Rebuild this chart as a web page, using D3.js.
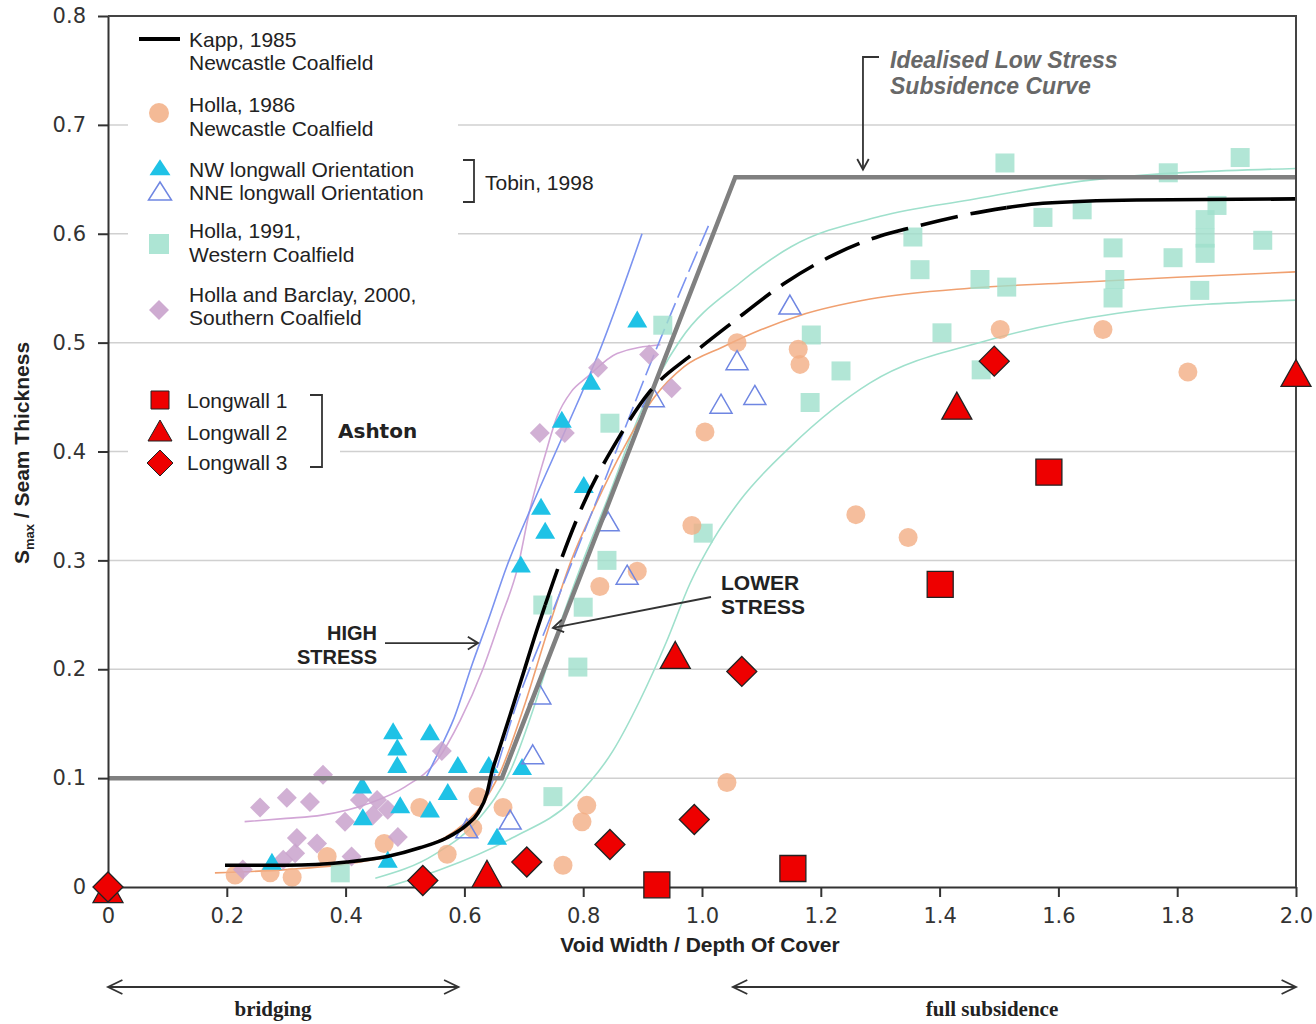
<!DOCTYPE html>
<html lang="en">
<head>
<meta charset="UTF-8">
<style>
    body { margin: 0; background: #fff; }
    svg text { font-family: "Liberation Sans", Arial, sans-serif; fill: #222; }
    .axis .tick text { font-family: "DejaVu Sans", sans-serif; font-size: 21px; fill: #333; }
    .axis path, .axis line { stroke: #333; stroke-width: 2; }
    .grid line { stroke: #d0d0d0; stroke-width: 1.5; }
    .fit { fill: none; stroke-width: 1.6; }
    .arrow { fill: none; stroke: #333; stroke-width: 1.8; }
</style>
</head>
<body>
<svg id="chart" width="1316" height="1024"></svg>
<script src="https://cdn.jsdelivr.net/npm/d3@7/dist/d3.min.js"></script>
<script>

// tick values
var xTicks = [0, 0.2, 0.4, 0.6, 0.8, 1.0, 1.2, 1.4, 1.6, 1.8, 2.0];
var yTicks = [0, 0.1, 0.2, 0.3, 0.4, 0.5, 0.6, 0.7, 0.8];

// Holla 1986, Newcastle Coalfield
var hollaNewcastle = [[1.059, 0.500], [1.162, 0.494], [1.165, 0.480], [1.005, 0.418], [0.983, 0.332],
    [0.891, 0.290], [0.828, 0.276], [1.259, 0.342], [1.347, 0.321], [1.502, 0.512], [1.675, 0.512],
    [1.818, 0.473], [1.042, 0.096], [0.806, 0.075], [0.798, 0.060], [0.766, 0.020], [0.665, 0.073],
    [0.623, 0.083], [0.614, 0.054], [0.571, 0.030], [0.525, 0.073], [0.465, 0.040], [0.369, 0.028],
    [0.310, 0.009], [0.214, 0.011], [0.273, 0.013]];

// Tobin 1998
var tobinNW = [[0.891, 0.519], [0.813, 0.462], [0.764, 0.427], [0.801, 0.367], [0.729, 0.347],
    [0.736, 0.325], [0.695, 0.294], [0.480, 0.141], [0.487, 0.126], [0.487, 0.110], [0.542, 0.140],
    [0.589, 0.110], [0.641, 0.110], [0.697, 0.108], [0.572, 0.085], [0.542, 0.069], [0.492, 0.073],
    [0.428, 0.091], [0.429, 0.062], [0.471, 0.023], [0.655, 0.044], [0.276, 0.021]];
var tobinNNE = [[1.148, 0.532], [1.059, 0.481], [1.089, 0.449], [1.032, 0.441], [0.918, 0.447],
    [0.842, 0.333], [0.874, 0.284], [0.727, 0.174], [0.715, 0.119], [0.677, 0.059], [0.604, 0.051]];

// Holla 1991, Western Coalfield
var hollaWestern = [[1.510, 0.665], [1.906, 0.670], [1.785, 0.656], [1.355, 0.597], [1.367, 0.567],
    [1.574, 0.615], [1.640, 0.622], [1.692, 0.587], [1.695, 0.558], [1.692, 0.541], [1.793, 0.578],
    [1.847, 0.613], [1.867, 0.626], [1.847, 0.596], [1.847, 0.582], [1.838, 0.548], [1.944, 0.594],
    [1.468, 0.558], [1.513, 0.551], [1.404, 0.509], [1.470, 0.475], [1.234, 0.474], [1.182, 0.445],
    [1.184, 0.507], [0.934, 0.516], [0.845, 0.426], [0.840, 0.300], [0.800, 0.257], [0.791, 0.202],
    [0.749, 0.083], [1.002, 0.325], [0.732, 0.259], [0.391, 0.013]];

// Holla and Barclay 2000, Southern Coalfield
var hollaSouthern = [[0.911, 0.489], [0.949, 0.458], [0.825, 0.477], [0.727, 0.417], [0.769, 0.417],
    [0.562, 0.125], [0.362, 0.103], [0.256, 0.073], [0.301, 0.082], [0.340, 0.078], [0.424, 0.080],
    [0.453, 0.080], [0.446, 0.066], [0.471, 0.071], [0.399, 0.060], [0.488, 0.046], [0.318, 0.045],
    [0.352, 0.040], [0.315, 0.031], [0.227, 0.016], [0.295, 0.025], [0.410, 0.028]];

// Ashton
var longwall1 = [[0.924, 0.002], [1.153, 0.017], [1.401, 0.278], [1.584, 0.381]];
var longwall2 = [[0.0, -0.006], [0.638, 0.008], [0.955, 0.209], [1.429, 0.438], [2.0, 0.468]];
var longwall3 = [[0.0, 0.0], [0.530, 0.006], [0.705, 0.023], [0.845, 0.039], [0.987, 0.062],
    [1.067, 0.198], [1.492, 0.483]];

// curves
var kapp = [[0.197, 0.020], [0.301, 0.020], [0.402, 0.023], [0.470, 0.028], [0.525, 0.036],
    [0.570, 0.045], [0.604, 0.057], [0.623, 0.068], [0.638, 0.086], [0.646, 0.105], [0.657, 0.124],
    [0.677, 0.158], [0.699, 0.196], [0.722, 0.236], [0.736, 0.259], [0.761, 0.298], [0.798, 0.349],
    [0.857, 0.410], [0.912, 0.455], [0.985, 0.490], [1.050, 0.518], [1.143, 0.556], [1.227, 0.582],
    [1.300, 0.598], [1.355, 0.606], [1.440, 0.617], [1.513, 0.624], [1.574, 0.628], [1.732, 0.631],
    [2.0, 0.632]];
var kappDashFrom = 0.736, kappDashTo = 1.513;
var idealised = [[0, 0.1], [0.663, 0.1], [1.056, 0.652], [2.0, 0.652]];
var nwFit = [[0.535, 0.100], [0.560, 0.128], [0.581, 0.153], [0.614, 0.206], [0.640, 0.245],
    [0.671, 0.294], [0.716, 0.353], [0.772, 0.422], [0.828, 0.493], [0.899, 0.600]];
var nneFit = [[0.640, 0.085], [0.655, 0.110], [0.680, 0.155], [0.750, 0.255], [0.830, 0.365],
    [0.920, 0.490], [1.013, 0.610]];
var southernFit = [[0.23, 0.060], [0.30, 0.063], [0.36, 0.066], [0.44, 0.077], [0.50, 0.092],
    [0.555, 0.117], [0.593, 0.153], [0.631, 0.200], [0.660, 0.245], [0.690, 0.294], [0.710, 0.346],
    [0.735, 0.395], [0.756, 0.432], [0.780, 0.455], [0.806, 0.468], [0.857, 0.490], [0.930, 0.498]];
var newcastleFit = [[0.18, 0.013], [0.30, 0.016], [0.40, 0.021], [0.50, 0.032], [0.58, 0.050],
    [0.626, 0.073], [0.66, 0.105], [0.70, 0.165], [0.74, 0.235], [0.78, 0.300], [0.82, 0.350],
    [0.87, 0.405], [0.92, 0.450], [0.97, 0.478], [1.035, 0.496], [1.10, 0.512], [1.165, 0.525],
    [1.283, 0.540], [1.45, 0.550], [1.62, 0.555], [1.80, 0.560], [2.0, 0.565]];
var westernFitUpper = [[0.45, 0.008], [0.55, 0.030], [0.62, 0.060], [0.68, 0.110], [0.72, 0.170],
    [0.756, 0.233], [0.80, 0.300], [0.84, 0.355], [0.90, 0.440], [0.963, 0.502], [1.064, 0.555],
    [1.15, 0.588], [1.30, 0.616], [1.45, 0.631], [1.65, 0.649], [2.0, 0.660]];
var westernFitLower = [[0.47, 0.0], [0.56, 0.016], [0.68, 0.045], [0.783, 0.080], [0.85, 0.125],
    [0.896, 0.172], [0.94, 0.225], [0.98, 0.279], [1.02, 0.320], [1.064, 0.355], [1.15, 0.405],
    [1.283, 0.463], [1.48, 0.502], [1.70, 0.527], [2.0, 0.539]];

var svg = d3.select("#chart");

var x = d3.scaleLinear().domain([0, 2]).range([108, 1296]);
var y = d3.scaleLinear().domain([0, 0.8]).range([887, 16]);

var colors = {
    orange: "#f2ae84", teal: "#9fe0cc", cyan: "#1fc2e6", nne: "#6f86e2",
    pink: "#c9a2cc", red: "#ee0000", grey: "#808080"
};

function tri(w, h) { return "M0," + (-2 * h / 3) + "L" + (w / 2) + "," + (h / 3) + "L" + (-w / 2) + "," + (h / 3) + "Z"; }
function diamond(r) { return "M0," + (-r) + "L" + r + ",0L0," + r + "L" + (-r) + ",0Z"; }
function square(s) { var h = s / 2; return "M" + (-h) + "," + (-h) + "H" + h + "V" + h + "H" + (-h) + "Z"; }
function circle(r) { return "M" + (-r) + ",0a" + r + "," + r + " 0 1,0 " + (2 * r) + ",0a" + r + "," + r + " 0 1,0 " + (-2 * r) + ",0Z"; }

// grid
svg.append("g").attr("class", "grid")
    .selectAll("line").data(yTicks.filter(function (d) { return d > 0 && d < 0.8; }))
    .enter().append("line")
    .attr("x1", x(0)).attr("x2", x(2))
    .attr("y1", function (d) { return y(d); }).attr("y2", function (d) { return y(d); });

// legend backgrounds
svg.append("rect").attr("x", 128).attr("y", 20).attr("width", 330).attr("height", 318).attr("fill", "#fff");
svg.append("rect").attr("x", 128).attr("y", 382).attr("width", 212).attr("height", 96).attr("fill", "#fff");

svg.append("clipPath").attr("id", "plotclip").append("rect")
    .attr("x", x(0)).attr("y", y(0.8)).attr("width", x(2) - x(0)).attr("height", y(0) - y(0.8) + 20);

var line = d3.line()
    .x(function (d) { return x(d[0]); })
    .y(function (d) { return y(d[1]); })
    .curve(d3.curveMonotoneX);

var plot = svg.append("g").attr("clip-path", "url(#plotclip)");

// fitted thin curves
plot.append("path").attr("class", "fit").attr("d", line(westernFitLower)).attr("stroke", colors.teal);
plot.append("path").attr("class", "fit").attr("d", line(westernFitUpper)).attr("stroke", colors.teal);
plot.append("path").attr("class", "fit").attr("d", line(newcastleFit)).attr("stroke", "#f0a070");
plot.append("path").attr("class", "fit").attr("d", line(southernFit)).attr("stroke", "#d2a6d6");
plot.append("path").attr("class", "fit").attr("d", line(nwFit)).attr("stroke", "#7b93f0");
plot.append("path").attr("class", "fit").attr("d", line(nneFit)).attr("stroke", "#7b93f0")
    .attr("stroke-dasharray", "22,6");

// pastel data points
function points(data, shape, attrs) {
    var sel = plot.append("g").selectAll("path").data(data).enter().append("path")
        .attr("d", shape)
        .attr("transform", function (d) { return "translate(" + x(d[0]) + "," + y(d[1]) + ")"; });
    Object.keys(attrs).forEach(function (k) { sel.attr(k, attrs[k]); });
    return sel;
}

points(hollaWestern, square(19), { fill: colors.teal, "fill-opacity": 0.8 });
points(hollaNewcastle, circle(9.5), { fill: colors.orange, "fill-opacity": 0.8 });
points(hollaSouthern, diamond(10), { fill: colors.pink, "fill-opacity": 0.85 });
points(tobinNW, tri(20, 17), { fill: colors.cyan });
points(tobinNNE, tri(22, 19), { fill: "none", stroke: colors.nne, "stroke-width": 1.5 });

// idealised low stress curve
plot.append("path").attr("d", d3.line().x(function (d) { return x(d[0]); }).y(function (d) { return y(d[1]); })(idealised))
    .attr("fill", "none").attr("stroke", colors.grey).attr("stroke-width", 4.5);

// Kapp 1985
var kLow = kapp.filter(function (d) { return d[0] <= kappDashFrom; });
var kMid = kapp.filter(function (d) { return d[0] >= kappDashFrom && d[0] <= kappDashTo; });
var kHigh = kapp.filter(function (d) { return d[0] >= kappDashTo; });
[kLow, kMid, kHigh].forEach(function (seg, i) {
    plot.append("path").attr("d", line(seg))
        .attr("fill", "none").attr("stroke", "#000").attr("stroke-width", 3.6)
        .attr("stroke-dasharray", i === 1 ? "38,13" : null);
});

// axes
svg.append("g").attr("class", "axis")
    .attr("transform", "translate(0," + y(0) + ")")
    .call(d3.axisBottom(x).tickValues(xTicks).tickSize(10).tickSizeOuter(0).tickPadding(11)
        .tickFormat(function (d) { return d === 0 ? "0" : d.toFixed(1); }));
svg.append("g").attr("class", "axis")
    .attr("transform", "translate(" + x(0) + ",0)")
    .call(d3.axisLeft(y).tickValues(yTicks).tickSize(10).tickSizeOuter(0).tickPadding(12)
        .tickFormat(function (d) { return d === 0 ? "0" : d.toFixed(1); }));

// frame
svg.append("path")
    .attr("d", "M" + x(0) + "," + y(0.8) + "H" + x(2) + "V" + y(0))
    .attr("fill", "none").attr("stroke", "#444").attr("stroke-width", 2);

// Ashton points
var redStyle = { fill: colors.red, stroke: "#222", "stroke-width": 1.3 };
var redG = svg.append("g");
[[longwall1, square(26)], [longwall2, tri(30, 27)], [longwall3, diamond(15)]].forEach(function (s) {
    var sel = redG.append("g").selectAll("path").data(s[0]).enter().append("path")
        .attr("d", s[1])
        .attr("transform", function (d) { return "translate(" + x(d[0]) + "," + y(d[1]) + ")"; });
    Object.keys(redStyle).forEach(function (k) { sel.attr(k, redStyle[k]); });
});

// axis titles
svg.append("text").attr("x", 700).attr("y", 952).attr("text-anchor", "middle")
    .style("font-size", "21px").style("font-weight", "bold")
    .text("Void Width / Depth Of Cover");
var yt = svg.append("text").attr("transform", "translate(29,453) rotate(-90)").attr("text-anchor", "middle")
    .style("font-size", "21px").style("font-weight", "bold");
yt.append("tspan").text("S");
yt.append("tspan").attr("dy", 5).style("font-size", "13px").text("max");
yt.append("tspan").attr("dy", -5).text(" / Seam Thickness");

// legend
var legend = svg.append("g");
legend.append("line").attr("x1", 139).attr("x2", 180).attr("y1", 39).attr("y2", 39)
    .attr("stroke", "#000").attr("stroke-width", 4);
legend.append("path").attr("d", circle(10)).attr("transform", "translate(159,113)")
    .attr("fill", colors.orange).attr("fill-opacity", 0.85);
legend.append("path").attr("d", tri(21, 16)).attr("transform", "translate(160,170)").attr("fill", colors.cyan);
legend.append("path").attr("d", tri(23, 18)).attr("transform", "translate(160,194)")
    .attr("fill", "none").attr("stroke", colors.nne).attr("stroke-width", 1.5);
legend.append("path").attr("d", square(20)).attr("transform", "translate(159,244)")
    .attr("fill", colors.teal).attr("fill-opacity", 0.85);
legend.append("path").attr("d", diamond(10)).attr("transform", "translate(159,310)")
    .attr("fill", colors.pink).attr("fill-opacity", 0.9);

var legendText = [["Kapp, 1985", 47], ["Newcastle Coalfield", 70], ["Holla, 1986", 112],
    ["Newcastle Coalfield", 136], ["NW longwall Orientation", 177], ["NNE longwall Orientation", 200],
    ["Holla, 1991,", 238], ["Western Coalfield", 262], ["Holla and Barclay, 2000,", 302],
    ["Southern Coalfield", 325]];
legend.selectAll("text.lt").data(legendText).enter().append("text")
    .attr("x", 189).attr("y", function (d) { return d[1]; })
    .style("font-size", "21px").text(function (d) { return d[0]; });

// Tobin bracket
legend.append("path").attr("d", "M463,160H474V202H463").attr("class", "arrow").attr("stroke-width", 2.2);
legend.append("text").attr("x", 485).attr("y", 190).style("font-size", "21px").text("Tobin, 1998");

// Ashton legend
legend.append("path").attr("d", square(18)).attr("transform", "translate(160,400)").attr("fill", colors.red).attr("stroke", "#222");
legend.append("path").attr("d", tri(24, 21)).attr("transform", "translate(160,434)").attr("fill", colors.red).attr("stroke", "#222");
legend.append("path").attr("d", diamond(13)).attr("transform", "translate(160,463)").attr("fill", colors.red).attr("stroke", "#222");
[["Longwall 1", 408], ["Longwall 2", 440], ["Longwall 3", 470]].forEach(function (d) {
    legend.append("text").attr("x", 187).attr("y", d[1]).style("font-size", "21px").text(d[0]);
});
legend.append("path").attr("d", "M310,395H322V467H310").attr("class", "arrow").attr("stroke-width", 2.2);
legend.append("text").attr("x", 338).attr("y", 438).style("font-family", "'DejaVu Sans', sans-serif")
    .style("font-size", "20px").style("font-weight", "bold").text("Ashton");

// annotations
function chevron(tx, ty, angle, len, spread) {
    var a1 = angle + Math.PI - spread, a2 = angle + Math.PI + spread;
    return "M" + (tx + len * Math.cos(a1)) + "," + (ty + len * Math.sin(a1)) +
        "L" + tx + "," + ty + "L" + (tx + len * Math.cos(a2)) + "," + (ty + len * Math.sin(a2));
}
var ann = svg.append("g");

// high stress
var hsTip = [x(0.623), y(0.224)];
ann.append("path").attr("class", "arrow").attr("d", "M385," + hsTip[1] + "H" + hsTip[0]);
ann.append("path").attr("class", "arrow").attr("d", chevron(hsTip[0], hsTip[1], 0, 12, 0.55));
ann.append("text").attr("x", 377).attr("y", 640).attr("text-anchor", "end")
    .style("font-size", "20px").style("font-weight", "bold").text("HIGH");
ann.append("text").attr("x", 377).attr("y", 664).attr("text-anchor", "end")
    .style("font-size", "20px").style("font-weight", "bold").text("STRESS");

// lower stress
var lsTip = [x(0.749), y(0.238)];
var lsAng = Math.atan2(lsTip[1] - 597, lsTip[0] - 711);
ann.append("path").attr("class", "arrow").attr("d", "M711,597L" + lsTip[0] + "," + lsTip[1]);
ann.append("path").attr("class", "arrow").attr("d", chevron(lsTip[0], lsTip[1], lsAng, 12, 0.55));
ann.append("text").attr("x", 721).attr("y", 590)
    .style("font-size", "21px").style("font-weight", "bold").text("LOWER");
ann.append("text").attr("x", 721).attr("y", 614)
    .style("font-size", "21px").style("font-weight", "bold").text("STRESS");

// idealised low stress label
var idTip = [x(1.271), y(0.659)];
ann.append("path").attr("class", "arrow").attr("d", "M879,57H" + idTip[0] + "V" + idTip[1]);
ann.append("path").attr("class", "arrow").attr("d", chevron(idTip[0], idTip[1], Math.PI / 2, 12, 0.5));
ann.append("text").attr("x", 890).attr("y", 68).style("font-size", "23px").style("font-weight", "bold")
    .style("font-style", "italic").style("fill", "#686868").text("Idealised Low Stress");
ann.append("text").attr("x", 890).attr("y", 94).style("font-size", "23px").style("font-weight", "bold")
    .style("font-style", "italic").style("fill", "#686868").text("Subsidence Curve");

// bridging / full subsidence
function doubleArrow(x1, x2, yy) {
    ann.append("path").attr("class", "arrow").attr("d", "M" + x1 + "," + yy + "H" + x2);
    ann.append("path").attr("class", "arrow").attr("d", chevron(x1, yy, Math.PI, 16, 0.45));
    ann.append("path").attr("class", "arrow").attr("d", chevron(x2, yy, 0, 16, 0.45));
}
doubleArrow(x(0), x(0.59), 987);
doubleArrow(x(1.052), x(2.0), 987);
ann.append("text").attr("x", 273).attr("y", 1016).attr("text-anchor", "middle")
    .style("font-family", "'Liberation Serif', 'Times New Roman', serif").style("font-size", "21px")
    .style("font-weight", "bold").text("bridging");
ann.append("text").attr("x", 992).attr("y", 1016).attr("text-anchor", "middle")
    .style("font-family", "'Liberation Serif', 'Times New Roman', serif").style("font-size", "21px")
    .style("font-weight", "bold").text("full subsidence");

</script>
</body>
</html>
